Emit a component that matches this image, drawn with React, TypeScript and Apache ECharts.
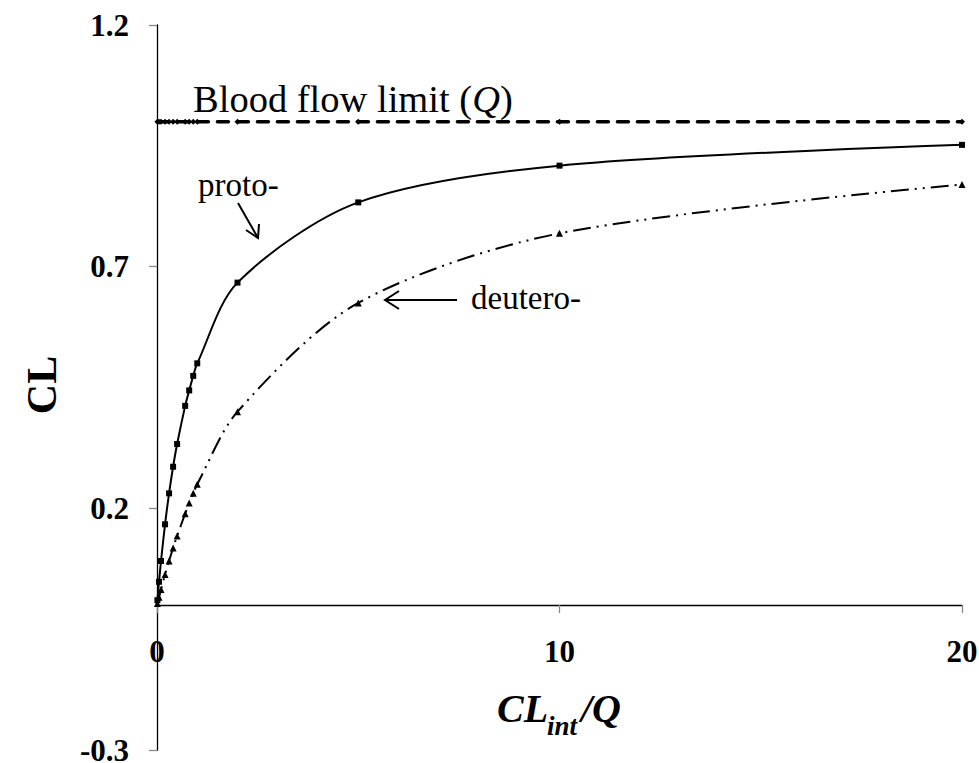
import React, { useEffect, useRef } from "react";
import * as echarts from "echarts";

const ratioX = [0.01, 0.05, 0.1, 0.2, 0.3, 0.4, 0.5, 0.7, 0.8, 0.9, 1, 2, 5, 10, 20];
const protoCL = [0.01, 0.048, 0.091, 0.167, 0.231, 0.286, 0.333, 0.412, 0.444, 0.474, 0.5, 0.667, 0.833, 0.909, 0.952];
const deuteroCL = [0.003, 0.016, 0.032, 0.063, 0.091, 0.118, 0.143, 0.189, 0.211, 0.231, 0.25, 0.4, 0.625, 0.769, 0.87];
const limitCL = [1, 1, 1, 1, 1, 1, 1, 1, 1, 1, 1, 1, 1, 1, 1];

const yMin = -0.3;
const yMax = 1.2;
const FONT = '"Times New Roman", "Liberation Serif", serif';

export default function App() {
  const ref = useRef<HTMLDivElement>(null);
  useEffect(() => {
    document.body.style.margin = "0";
    const chart = echarts.init(ref.current!, null, { renderer: "svg" });
    const pairs = (ys: number[]) => ratioX.map((x, i) => [x, ys[i]]);
    const gridTop = 25;
    const gridBottom = 13;
    const gridH = 763 - gridTop - gridBottom;
    const zeroOffset = -(gridH * (0 - yMin)) / (yMax - yMin);
    chart.setOption({
      animation: false,
      backgroundColor: "#fff",
      grid: {
        left: 157,
        right: 17,
        top: gridTop,
        bottom: gridBottom,
        containLabel: false,
        outerBoundsMode: "none",
      },
      xAxis: {
        type: "value",
        position: "bottom",
        offset: zeroOffset,
        min: 0,
        max: 20,
        interval: 10,
        axisLine: { show: true, onZero: false, lineStyle: { color: "#000", width: 1.3 } },
        axisTick: { show: true, inside: false, length: 8, lineStyle: { color: "#888", width: 1.3 } },
        axisLabel: { color: "#000", fontFamily: FONT, fontWeight: "bold", fontSize: 31, margin: 31 },
        splitLine: { show: false },
      },
      yAxis: {
        type: "value",
        min: yMin,
        max: yMax,
        interval: 0.5,
        axisLine: { show: true, onZero: false, lineStyle: { color: "#000", width: 1.3 } },
        axisTick: { show: true, inside: false, length: 8, lineStyle: { color: "#888", width: 1.3 } },
        axisLabel: {
          color: "#000",
          fontFamily: FONT,
          fontWeight: "bold",
          fontSize: 31,
          margin: 28,
          formatter: (v: number) => v.toFixed(1),
        },
        splitLine: { show: false },
      },
      series: [
        {
          name: "Blood flow limit",
          type: "line",
          data: pairs(limitCL),
          symbol: "diamond",
          symbolSize: 6,
          clip: false,
          lineStyle: { color: "#000", width: 3.5, type: [11, 9], cap: "round" },
          itemStyle: { color: "#000" },
        },
        {
          name: "proto-",
          type: "line",
          data: pairs(protoCL),
          symbol: "rect",
          symbolSize: 6,
          smooth: 0.3,
          clip: false,
          lineStyle: { color: "#000", width: 2 },
          itemStyle: { color: "#000" },
        },
        {
          name: "deutero-",
          type: "line",
          data: pairs(deuteroCL),
          symbol: "triangle",
          symbolSize: 7,
          smooth: 0.3,
          clip: false,
          lineStyle: { color: "#000", width: 2, type: [18, 6, 2, 6, 2, 6] },
          itemStyle: { color: "#000" },
        },
      ],
      graphic: [
        {
          type: "text",
          left: 193,
          top: 79,
          style: {
            text: "{n|Blood flow limit (}{i|Q}{n|)}",
            rich: {
              n: { fontFamily: FONT, fontSize: 38.5, fill: "#000" },
              i: { fontFamily: FONT, fontSize: 38.5, fontStyle: "italic", fill: "#000" },
            },
          },
        },
        {
          type: "text",
          left: 198,
          top: 168,
          style: { text: "proto-", fontFamily: FONT, fontSize: 33, fill: "#000" },
        },
        {
          type: "text",
          left: 471,
          top: 281,
          style: { text: "deutero-", fontFamily: FONT, fontSize: 33, fill: "#000" },
        },
        {
          type: "line",
          shape: { x1: 238, y1: 203, x2: 258, y2: 238 },
          style: { stroke: "#000", lineWidth: 2 },
        },
        {
          type: "polyline",
          shape: { points: [[246, 230], [258, 238], [259, 224]] },
          style: { stroke: "#000", lineWidth: 2, fill: null },
        },
        {
          type: "line",
          shape: { x1: 457, y1: 300, x2: 385, y2: 300 },
          style: { stroke: "#000", lineWidth: 2 },
        },
        {
          type: "polyline",
          shape: { points: [[399, 291], [385, 300], [399, 309]] },
          style: { stroke: "#000", lineWidth: 2, fill: null },
        },
        {
          type: "text",
          x: 42,
          y: 385,
          rotation: Math.PI / 2,
          style: {
            text: "CL",
            fontFamily: FONT,
            fontWeight: "bold",
            fontSize: 42,
            fill: "#000",
            align: "center",
            verticalAlign: "middle",
          },
        },
        {
          type: "text",
          x: 497,
          y: 728,
          style: {
            text: "CL",
            fontFamily: FONT,
            fontWeight: "bold",
            fontStyle: "italic",
            fontSize: 40,
            fill: "#000",
            verticalAlign: "bottom",
          },
        },
        {
          type: "text",
          x: 547,
          y: 739,
          style: {
            text: "int",
            fontFamily: FONT,
            fontWeight: "bold",
            fontStyle: "italic",
            fontSize: 27,
            fill: "#000",
            verticalAlign: "bottom",
          },
        },
        {
          type: "text",
          x: 581,
          y: 728,
          style: {
            text: "/Q",
            fontFamily: FONT,
            fontWeight: "bold",
            fontStyle: "italic",
            fontSize: 40,
            fill: "#000",
            verticalAlign: "bottom",
          },
        },
      ],
    });
    return () => chart.dispose();
  }, []);
  return <div ref={ref} style={{ width: 979, height: 763 }} />;
}
